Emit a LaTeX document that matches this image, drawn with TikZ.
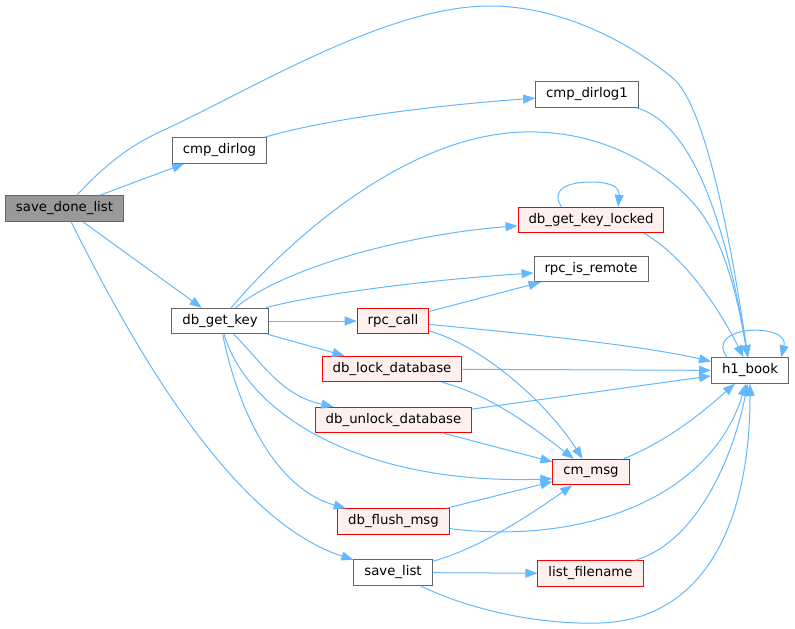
\documentclass[tikz,border=0pt]{standalone}
\usepackage{fontspec}
\setmainfont{DejaVu Sans}
\usetikzlibrary{arrows.meta}
\definecolor{edgeblue}{HTML}{63B8FF}
\definecolor{boxgray}{HTML}{666666}
\definecolor{rootfill}{HTML}{999999}
\definecolor{redfill}{HTML}{FFF0F0}

\begin{document}
\begin{tikzpicture}[x=1pt,y=-1pt,
    fn/.style={draw=boxgray,fill=white,line width=1pt,minimum height=25.5pt,
      inner xsep=10.5pt,font=\fontsize{13.3}{15}\selectfont},
    fnred/.style={fn,draw=red,fill=redfill},
    fnroot/.style={fn,fill=rootfill},
    call/.style={draw=edgeblue,line width=1pt,-{Triangle[length=12pt,width=9pt]}}]
    \useasboundingbox (0,0) rectangle (795,629);
    \node[fnroot] (savedone)  at (64.5,208.5) {save\_done\_list};
    \node[fn]     (cmpdirlog) at (219.5,150.5) {cmp\_dirlog};
    \node[fn]     (cmpdirlog1) at (587,94.5) {cmp\_dirlog1};
    \node[fn]     (getkey)    at (220,321) {db\_get\_key};
    \node[fnred]  (keylocked) at (591,220) {db\_get\_key\_locked};
    \node[fn]     (isremote)  at (591,269) {rpc\_is\_remote};
    \node[fnred]  (rpccall)   at (393,321) {rpc\_call};
    \node[fnred]  (lockdb)    at (392,369) {db\_lock\_database};
    \node[fnred]  (unlockdb)  at (393.5,420) {db\_unlock\_database};
    \node[fnred]  (cmmsg)     at (591,472) {cm\_msg};
    \node[fnred]  (flushmsg)  at (393.5,521.5) {db\_flush\_msg};
    \node[fn]     (savelist)  at (393,572.5) {save\_list};
    \node[fnred]  (listfile)  at (590.5,573.5) {list\_filename};
    \node[fn]     (hbook)     at (750,370.5) {h1\_book};
    % save_done_list
    \draw[call] (savedone) .. controls (105,165) and (130,145) .. (164,130)
      .. controls (260,85) and (390,5) .. (492,6)
      .. controls (570,7) and (640,50) .. (675,80)
      .. controls (710,115) and (735,270) .. (hbook);
    \draw[call] (savedone) -- (cmpdirlog);
    \draw[call] (savedone) -- (getkey);
    \draw[call] (savedone) .. controls (130,340) and (230,520) .. (savelist);
    % cmp_dirlog
    \draw[call] (cmpdirlog) .. controls (330,118) and (440,105) .. (cmpdirlog1);
    \draw[call] (cmpdirlog1) .. controls (700,125) and (730,250) .. (hbook);
    % db_get_key
    \draw[call] (getkey) .. controls (280,250) and (400,135) .. (524,132)
      .. controls (600,130) and (660,165) .. (695,205)
      .. controls (725,240) and (738,300) .. (hbook);
    \draw[call] (getkey) .. controls (280,270) and (400,235) .. (keylocked);
    \draw[call] (getkey) .. controls (300,298) and (400,282) .. (isremote);
    \draw[call] (getkey) -- (rpccall);
    \draw[call] (getkey) -- (lockdb);
    \draw[call] (getkey) .. controls (262,362) and (280,395) .. (unlockdb);
    \draw[call] (getkey) .. controls (250,420) and (370,485) .. (cmmsg.190);
    \draw[call] (getkey) .. controls (240,420) and (280,490) .. (flushmsg);
    % db_get_key_locked
    \draw[call] (keylocked.156) .. controls (548,185) and (578,182) .. (590,182)
      .. controls (603,182) and (620,184) .. (keylocked.26);
    \draw[call] (keylocked.-14) .. controls (690,260) and (725,320) .. (hbook);
    % rpc_call
    \draw[call] (rpccall) -- (isremote);
    \draw[call] (rpccall) .. controls (520,333) and (640,345) .. (hbook);
    \draw[call] (rpccall) .. controls (480,345) and (545,400) .. (cmmsg);
    % lock / unlock
    \draw[call] (lockdb) -- (hbook);
    \draw[call] (lockdb) .. controls (490,395) and (530,425) .. (cmmsg);
    \draw[call] (unlockdb) -- (hbook);
    \draw[call] (unlockdb) -- (cmmsg);
    % cm_msg, db_flush_msg
    \draw[call] (cmmsg) .. controls (670,440) and (705,410) .. (hbook);
    \draw[call] (flushmsg) -- (cmmsg);
    \draw[call] (flushmsg) .. controls (580,545) and (710,500) .. (hbook);
    % save_list
    \draw[call] (savelist) .. controls (480,548) and (530,515) .. (cmmsg);
    \draw[call] (savelist) -- (listfile);
    \draw[call] (savelist) .. controls (470,610) and (540,625) .. (600,623)
      .. controls (700,620) and (750,530) .. (hbook);
    \draw[call] (listfile) .. controls (700,541) and (735,450) .. (hbook);
    % h1_book
    \draw[call] (hbook.150) .. controls (703,325) and (790,322) .. (hbook.23);
\end{tikzpicture}
\end{document}
